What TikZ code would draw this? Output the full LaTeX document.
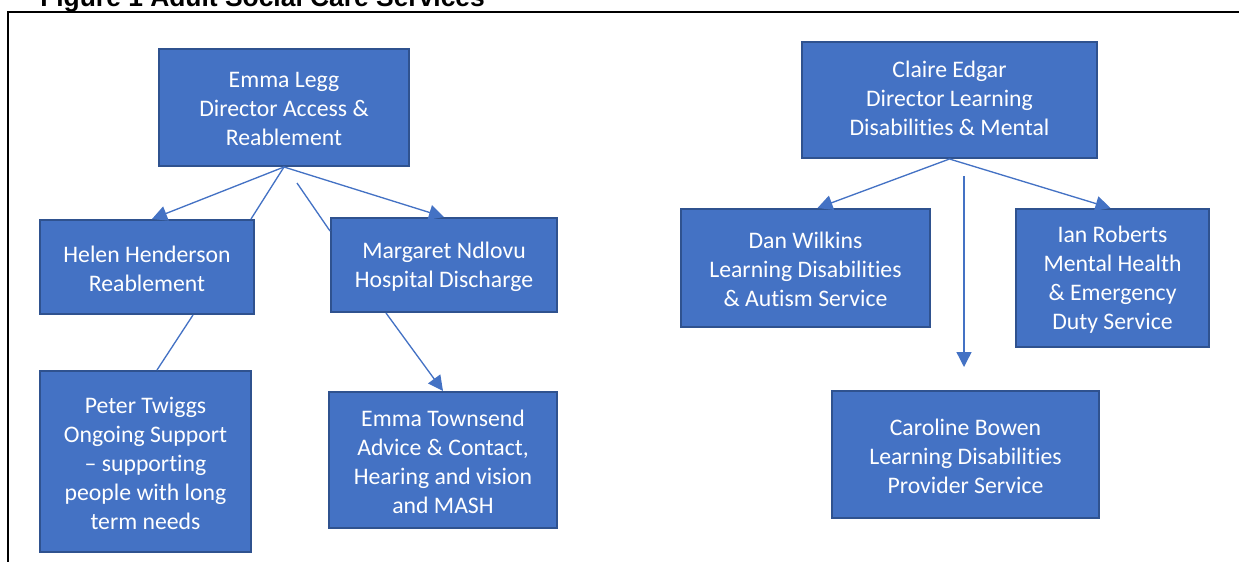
\documentclass[tikz,border=0pt]{standalone}
\usepackage{fontspec}
\setmainfont{Carlito}[Ligatures=NoCommon]
\newfontfamily\titlefont{Liberation Sans}
\usetikzlibrary{arrows.meta,calc,fit}
\definecolor{boxblue}{HTML}{4472C4}
\definecolor{boxedge}{HTML}{2F528F}
\begin{document}
\begin{tikzpicture}[x=0.75pt,y=-0.75pt,
 box/.style={draw=boxedge, line width=1.5pt, fill=boxblue, inner sep=0pt},
 boxtext/.style={text=white, inner sep=0pt, align=center, yshift=-1.3pt, font=\fontsize{17.8}{21.75}\selectfont},
 conn/.style={draw=boxblue, line width=1pt},
 arr/.style={conn, -{Triangle[length=11.25pt,width=11.25pt]}},
 frame/.style={draw=black, line width=1.5pt}]
\useasboundingbox (0,0) rectangle (1239,561);
\node[anchor=base west, font=\titlefont\bfseries\fontsize{19.8}{24}\selectfont, inner sep=0pt] (title) at (40,6) {Figure 1 Adult Social Care Services};
\coordinate (fa) at (8,562); \coordinate (fb) at (8,12); \coordinate (fc) at (1240,12);
\draw[frame] (fa) -- (fb) -- (fc);

\node[box, fit={(159,49) (409,166)}, label={[boxtext]center:{Emma Legg\\Director Access \&\\Reablement}}] (legg) {};
\node[box, fit={(40,220) (254,314)}, label={[boxtext]center:{Helen Henderson\\Reablement}}] (helen) {};
\node[box, fit={(331,218) (557,312)}, label={[boxtext]center:{Margaret Ndlovu\\Hospital Discharge}}] (marg) {};
\node[box, fit={(40,371) (251,552)}, label={[boxtext]center:{Peter Twiggs\\Ongoing Support\\– supporting\\people with long\\term needs}}] (peter) {};
\node[box, fit={(329,392) (557,528)}, label={[boxtext]center:{Emma Townsend\\Advice \& Contact,\\Hearing and vision\\and MASH}}] (town) {};
\node[box, fit={(802,42) (1097,158)}, label={[boxtext, yshift=2.75pt]center:{Claire Edgar\\Director Learning\\Disabilities \& Mental}}] (claire) {};
\node[box, fit={(681,209) (930,327)}, label={[boxtext]center:{Dan Wilkins\\Learning Disabilities\\\& Autism Service}}] (dan) {};
\node[box, fit={(1016,209) (1209,347)}, label={[boxtext]center:{Ian Roberts\\Mental Health\\\& Emergency\\Duty Service}}] (ian) {};
\node[box, fit={(832,391) (1099,518)}, label={[boxtext]center:{Caroline Bowen\\Learning Disabilities\\Provider Service}}] (caroline) {};

\draw[arr] (legg.south) -- ($(helen.north)+(5,0)$);
\draw[conn] (legg.south) -- ($(helen.north east)+(-4,0)$);
\coordinate (s1) at (297,183);
\draw[conn] (s1) -- ($(marg.north west)+(0,14)$);
\draw[arr] (legg.south) -- (marg.north);
\draw[conn] ($(helen.south)+(46,0)$) -- ($(peter.north)+(11.5,0)$);
\draw[arr] ($(marg.south)+(-58,0)$) -- (town.north);
\draw[arr] (claire.south) -- ($(dan.north)+(12,0)$);
\draw[arr] (claire.south) -- ($(ian.north)+(-2,0)$);
\coordinate (v1) at (964,176);
\coordinate (v2) at (964,367);
\draw[arr] (v1) -- (v2);
\end{tikzpicture}
\end{document}
